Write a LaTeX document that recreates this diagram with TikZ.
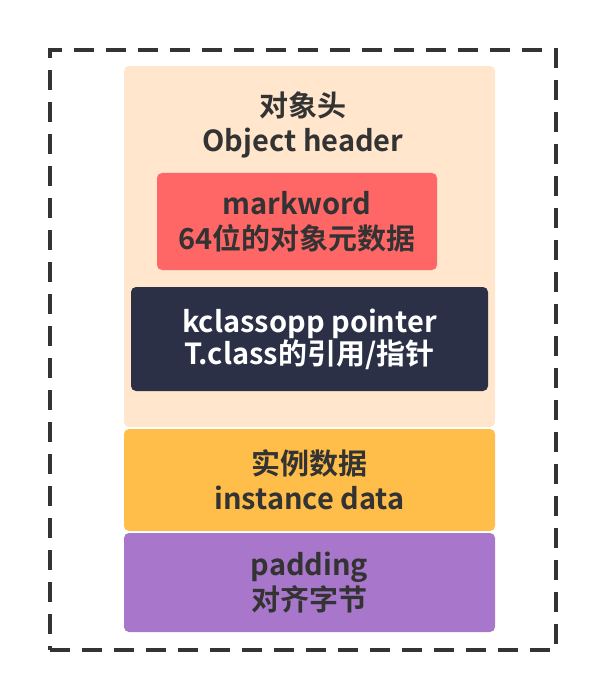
\documentclass[tikz,border=0pt]{standalone}
\usepackage{fontspec}
\setmainfont{Noto Sans CJK SC}[BoldFont={Noto Sans CJK SC Bold}]
\usetikzlibrary{positioning}
\definecolor{cpeach}{HTML}{FFE6CC}
\definecolor{cred}{HTML}{FF6666}
\definecolor{cnavy}{HTML}{2B3047}
\definecolor{cgold}{HTML}{FFBE4A}
\definecolor{cviolet}{HTML}{A876CA}
\definecolor{ctext}{HTML}{333333}
\tikzset{
  every picture/.style={x=1pt, y=-1pt},
  block/.style={fill=#1, rounded corners=5pt, align=center, inner sep=0pt,
    text=ctext, font=\fontsize{29}{35}\selectfont\bfseries},
  block/.default=cpeach,
  frame/.style={draw=ctext, line width=4pt, dash pattern=on 20pt off 12pt, inner sep=0pt},
}
\begin{document}
\begin{tikzpicture}
  \useasboundingbox (0,0) rectangle (606,700);
  % outer dashed frame
  \node[frame, minimum width=506pt, minimum height=600pt] (frame) at (303,350) {};
  % object header and its parts
  \node[block, minimum width=371pt, minimum height=361pt] (header) at (309.5,246.5) {};
  \node[text=ctext, align=center, font=\fontsize{29}{35}\selectfont\bfseries] (headtitle) at (303,125) {对象头\\Object header};
  \node[block=cred, minimum width=280pt, minimum height=97pt] (markword) at (297,221.5) {markword\\64位的对象元数据};
  \node[block=cnavy, text=white, minimum width=357pt, minimum height=104pt, font=\fontsize{29}{32}\selectfont\bfseries] (klass) at (309.5,339) {kclassopp pointer\\T.class的引用/指针};
  % instance data and padding
  \node[block=cgold, minimum width=371pt, minimum height=102pt] (inst) at (309.5,480) {实例数据\\instance data};
  \node[block=cviolet, minimum width=371pt, minimum height=99pt] (pad) at (309.5,582.5) {padding\\对齐字节};
\end{tikzpicture}
\end{document}
